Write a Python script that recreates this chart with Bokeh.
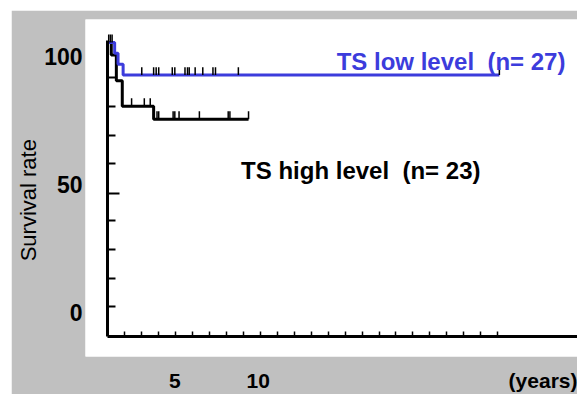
import numpy as np
from bokeh.plotting import figure
from bokeh.models import Range1d, LinearAxis, FixedTicker, CustomJSTickFormatter, Label
from bokeh.embed import file_html
from bokeh.resources import INLINE

# ---- data ----
low_time = [0, 0.4, 0.6, 0.9, 23.1]
low_surv = [100, 96.3, 92.6, 88.9, 88.9]
low_censor = [0.25, 2.0, 2.7, 2.85, 3.0, 3.8, 3.95, 4.55, 4.7, 4.8, 5.15, 5.6, 6.2, 6.35, 7.7, 23.1]

high_time = [0, 0.2, 0.5, 0.85, 2.7, 8.3]
high_surv = [100, 95.7, 87.0, 78.3, 73.9, 73.9]
high_censor = [0.05, 0.15, 1.4, 2.15, 2.5, 2.9, 3.0, 3.85, 3.95, 4.2, 5.4, 7.1, 7.2, 8.3]

x_label_ticks = [5, 10, 28.7]
x_label_text = {28.7: "(years)"}
y_label_ticks = [0, 50, 100]
y_title = "Survival rate"

low_name = "TS low level \u00a0(n= 27)"
high_name = "TS high level \u00a0(n= 23)"

BLUE = "#3c3cdc"
GRAY = "#c0c0c0"
FONT = "Liberation Sans"


def level_at(times, surv, t):
    i = int(np.searchsorted(times, t, side="right")) - 1
    return surv[max(i, 0)]


p = figure(width=566, height=384, output_backend="svg", toolbar_location=None,
           x_range=Range1d(-1.32, 27.71), y_range=Range1d(-6.78, 107.8),
           x_axis_type=None, y_axis_type=None,
           min_border_left=74, min_border_right=0, min_border_top=9, min_border_bottom=37)
p.margin = (10, 0, 0, 11)
p.border_fill_color = GRAY
p.background_fill_color = "white"
p.outline_line_color = None
p.extra_x_ranges = {"lab": Range1d(-0.366, 29.15)}
p.extra_y_ranges = {"lab": Range1d(-17.03, 114.4)}

# main axes drawn inside the white panel
ya = LinearAxis(fixed_location=0, bounds=(0, 100.7),
                ticker=FixedTicker(ticks=[48.8],
                                   minor_ticks=[10.2, 19.9, 29.6, 39.4, 58.8, 68.5, 78.2, 88.0]),
                formatter=CustomJSTickFormatter(code="return ''"))
ya.axis_line_width = 3
ya.major_tick_in = 12
ya.major_tick_out = 0
ya.minor_tick_in = 8
ya.minor_tick_out = 0
ya.major_tick_line_width = 2
ya.minor_tick_line_width = 2
ya.major_label_standoff = 0
p.add_layout(ya, "left")

xa = LinearAxis(fixed_location=0, bounds=(0, 27.71),
                ticker=FixedTicker(ticks=[], minor_ticks=list(range(1, 24))))
xa.axis_line_width = 3
xa.minor_tick_in = 5
xa.minor_tick_out = 0
xa.minor_tick_line_width = 1.5
xa.major_tick_in = 0
xa.major_tick_out = 0
xa.major_label_standoff = 0
p.add_layout(xa, "below")

# label axes in the gray border (title padded so it sits below the frame centre)
yl = LinearAxis(y_range_name="lab", ticker=FixedTicker(ticks=y_label_ticks),
                axis_label=y_title + "\u00a0" * 4)
yl.axis_line_color = None
yl.major_tick_line_color = None
yl.minor_tick_line_color = None
yl.major_tick_in = 0
yl.major_tick_out = 0
yl.major_label_standoff = 3
yl.major_label_text_font = FONT
yl.major_label_text_font_size = "23px"
yl.major_label_text_font_style = "bold"
yl.major_label_text_color = "black"
yl.axis_label_text_font = FONT
yl.axis_label_text_font_size = "22px"
yl.axis_label_text_font_style = "normal"
yl.axis_label_text_color = "black"
yl.axis_label_standoff = 0
p.add_layout(yl, "left")

xl = LinearAxis(x_range_name="lab", ticker=FixedTicker(ticks=x_label_ticks),
                major_label_overrides=x_label_text)
xl.axis_line_color = None
xl.major_tick_line_color = None
xl.minor_tick_line_color = None
xl.major_tick_in = 0
xl.major_tick_out = 0
xl.major_label_standoff = 12
xl.major_label_text_font = FONT
xl.major_label_text_font_size = "21px"
xl.major_label_text_font_style = "bold"
xl.major_label_text_color = "black"
p.add_layout(xl, "below")

# survival curves
p.step(high_time, high_surv, mode="after", line_color="black", line_width=3)
p.step(low_time, low_surv, mode="after", line_color=BLUE, line_width=3)

hc_y = [level_at(high_time, high_surv, t) for t in high_censor]
p.segment(x0=high_censor, y0=hc_y, x1=high_censor, y1=[v + 2.7 for v in hc_y],
          line_color="black", line_width=1.5)
lc_y = [level_at(low_time, low_surv, t) for t in low_censor]
p.segment(x0=low_censor, y0=lc_y, x1=low_censor, y1=[v + 2.7 for v in lc_y],
          line_color="black", line_width=1.5)

p.add_layout(Label(x=13.5, y=93.6, text=low_name, text_font=FONT, text_font_style="bold",
                   text_font_size="24px", text_color=BLUE, text_baseline="middle"))
p.add_layout(Label(x=7.86, y=56.3, text=high_name, text_font=FONT, text_font_style="bold",
                   text_font_size="24px", text_color="black", text_baseline="middle"))

open("out.html", "w").write(file_html(p, INLINE))
